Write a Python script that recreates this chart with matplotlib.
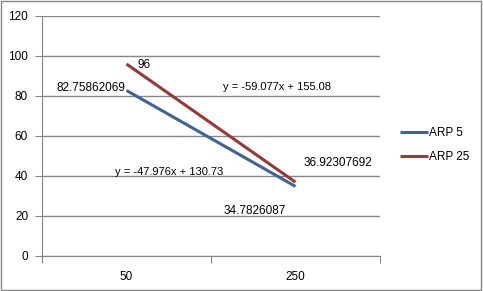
import numpy as np
import matplotlib.pyplot as plt
from matplotlib.patches import Rectangle

categories = ["50", "250"]
arp5 = [82.75862069, 34.7826087]
arp25 = [96, 36.92307692]
labels5 = ["82.75862069", "34.7826087"]
labels25 = ["96", "36.92307692"]

BLUE = "#3E6496"
RED = "#963A38"

plt.rcParams["font.family"] = ["Liberation Sans", "DejaVu Sans"]

fig = plt.figure(figsize=(4.83, 2.91), dpi=100)
ax = fig.add_axes([42 / 483, 1 - 256 / 291, 338 / 483, 240 / 291])

x = np.array([0.5, 1.5])
ax.plot(x, arp5, color=BLUE, lw=2.2, label="ARP 5", solid_capstyle="butt")
ax.plot(x, arp25, color=RED, lw=2.2, label="ARP 25", solid_capstyle="butt")

ax.set_xlim(0, 2)
ax.set_ylim(0, 120)
ax.set_yticks(range(0, 121, 20))
ax.yaxis.grid(True, color="#868686", lw=1)
ax.set_axisbelow(True)

ax.set_xticks([0, 1, 2])
ax.set_xticklabels([])
ax.set_xticks(x, minor=True)
ax.set_xticklabels(categories, minor=True)
ax.tick_params(axis="x", which="minor", length=0, pad=11, labelsize=8.5)
ax.tick_params(axis="x", which="major", length=5, color="#868686")
ax.tick_params(axis="y", length=5, color="#868686", labelsize=8.5, pad=5)

for side in ["top", "right"]:
    ax.spines[side].set_visible(False)
for side in ["left", "bottom"]:
    ax.spines[side].set_color("#868686")

fs = 8.5
# data labels
ax.annotate(labels5[0], (x[0], arp5[0]), xytext=(-1, 2), textcoords="offset points",
            ha="right", va="center", fontsize=fs)
ax.annotate(labels5[1], (x[1], arp5[1]), xytext=(-29.5, -17.5), textcoords="offset points",
            ha="center", va="center", fontsize=fs)
ax.annotate(labels25[0], (x[0], arp25[0]), xytext=(8, -1), textcoords="offset points",
            ha="left", va="center", fontsize=fs)
ax.annotate(labels25[1], (x[1], arp25[1]), xytext=(6, 13.5), textcoords="offset points",
            ha="left", va="center", fontsize=fs)

# trendline equations
for vals, pos in [(arp25, (1.39, 84.5)), (arp5, (0.75, 42))]:
    m, b = np.polyfit([1, 2], vals, 1)
    ax.text(pos[0], pos[1], f"y = {m:.3f}x + {b:.2f}", ha="center", va="center", fontsize=8)

ax.legend(loc="center left", bbox_to_anchor=(1.044, 0.4625), frameon=False, fontsize=fs,
          handlelength=2.37, handletextpad=0.1, labelspacing=1.0, borderaxespad=0)

fig.patches.append(Rectangle((0.002, 0.003), 0.994, 0.993, transform=fig.transFigure,
                             fill=False, edgecolor="#868686", lw=1))

fig.savefig("out.png", dpi=100)
